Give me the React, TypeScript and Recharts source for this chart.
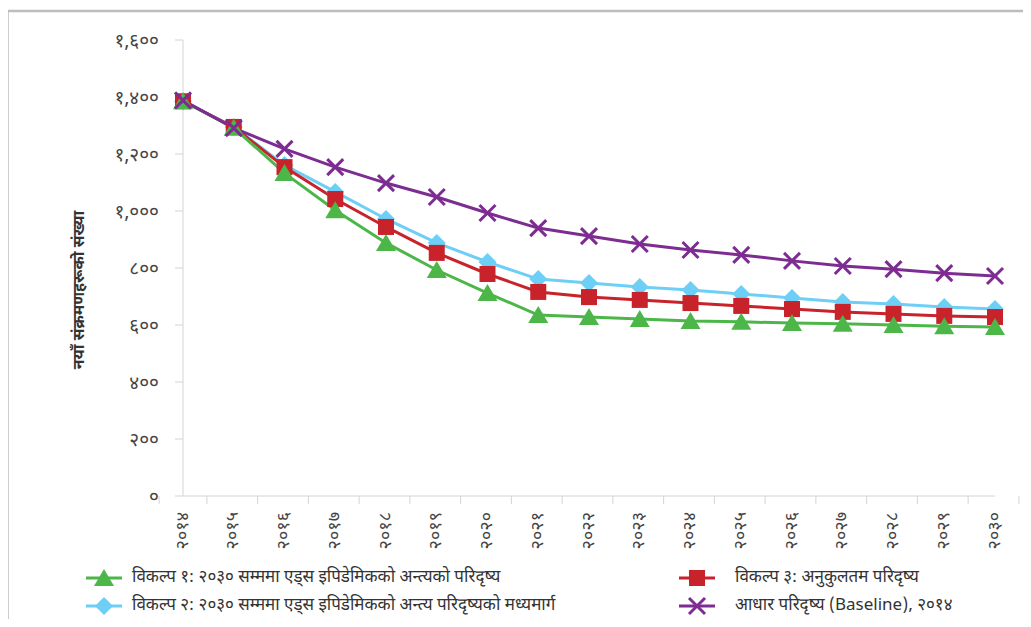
import { LineChart, Line, XAxis, YAxis } from "recharts";

const years = ["२०१४", "२०१५", "२०१६", "२०१७", "२०१८", "२०१९", "२०२०", "२०२१", "२०२२", "२०२३", "२०२४", "२०२५", "२०२६", "२०२७", "२०२८", "२०२९", "२०३०"];

const option1 = [1385, 1292, 1133, 1003, 888, 793, 712, 635, 628, 621, 614, 611, 607, 604, 600, 596, 593];
const option2 = [1385, 1295, 1161, 1067, 972, 888, 821, 761, 747, 733, 723, 709, 695, 681, 674, 663, 656];
const option3 = [1385, 1295, 1154, 1042, 944, 853, 779, 716, 698, 688, 677, 667, 656, 646, 639, 632, 628];
const baseline = [1388, 1291, 1218, 1154, 1098, 1049, 993, 940, 912, 884, 863, 846, 825, 807, 796, 782, 772];

const yTicks = [0, 200, 400, 600, 800, 1000, 1200, 1400, 1600];

const seriesNames = [
  "विकल्प १: २०३० सम्ममा एड्स इपिडेमिकको अन्त्यको परिदृष्य",
  "विकल्प २: २०३० सम्ममा एड्स इपिडेमिकको अन्त्य परिदृष्यको मध्यमार्ग",
  "विकल्प ३: अनुकुलतम परिदृष्य",
  "आधार परिदृष्य (Baseline), २०१४",
];

const GREEN = "#4cb748";
const BLUE = "#6dcff6";
const RED = "#c8222b";
const PURPLE = "#7d2c91";

const FONT = "'Noto Sans Devanagari', 'Noto Sans', sans-serif";

const data = years.map((y, i) => ({
  year: y,
  o1: option1[i],
  o2: option2[i],
  o3: option3[i],
  base: baseline[i],
}));

const DEV = "०१२३४५६७८९";
const toDev = (s: string) => s.replace(/[0-9]/g, (d) => DEV[+d]);

const BAND = (995 - 183) / years.length;

function Triangle({ cx, cy, color }: any) {
  if (cx == null || cy == null) return null;
  return <polygon points={`${cx},${cy - 9} ${cx - 10},${cy + 8} ${cx + 10},${cy + 8}`} fill={color} />;
}
function Square({ cx, cy, color }: any) {
  if (cx == null || cy == null) return null;
  return <rect x={cx - 8} y={cy - 8} width={16} height={16} fill={color} />;
}
function Diamond({ cx, cy, color }: any) {
  if (cx == null || cy == null) return null;
  return <polygon points={`${cx},${cy - 9} ${cx + 9},${cy} ${cx},${cy + 9} ${cx - 9},${cy}`} fill={color} />;
}
function Cross({ cx, cy, color }: any) {
  if (cx == null || cy == null) return null;
  return (
    <g stroke={color} strokeWidth={3}>
      <line x1={cx - 8} y1={cy - 8} x2={cx + 8} y2={cy + 8} />
      <line x1={cx - 8} y1={cy + 8} x2={cx + 8} y2={cy - 8} />
    </g>
  );
}

function XTick({ x, y, payload, index }: any) {
  return (
    <g transform={`translate(${x},${y})`}>
      {index === 0 && <line x1={-BAND / 2} y1={-8} x2={-BAND / 2} y2={0} stroke="#d4d4d4" />}
      <line x1={BAND / 2} y1={-8} x2={BAND / 2} y2={0} stroke="#d4d4d4" />
      <text
        transform="rotate(-90)"
        x={-8}
        y={0}
        textAnchor="end"
        dominantBaseline="central"
        fontSize={18}
        fill="#444"
        fontFamily={FONT}
      >
        {payload.value}
      </text>
    </g>
  );
}

function YLabel({ viewBox }: any) {
  const cy = viewBox.y + viewBox.height / 2 + 22;
  return (
    <text
      transform={`translate(80,${cy}) rotate(-90)`}
      textAnchor="middle"
      dominantBaseline="central"
      fontSize={16}
      fontWeight={700}
      fill="#333"
      fontFamily={FONT}
    >
      नयाँ संक्रमणहरूको संख्या
    </text>
  );
}

function LegendItem({ left, top, color, marker, label, gap }: any) {
  return (
    <div style={{ position: "absolute", left, top, display: "flex", alignItems: "center", height: 24 }}>
      <svg width={40} height={24}>
        <line x1={2} y1={12} x2={38} y2={12} stroke={color} strokeWidth={3} />
        {marker === "tri" && <Triangle cx={20} cy={12} color={color} />}
        {marker === "sq" && <Square cx={20} cy={12} color={color} />}
        {marker === "dia" && <Diamond cx={20} cy={12} color={color} />}
        {marker === "x" && <Cross cx={20} cy={12} color={color} />}
      </svg>
      <span style={{ marginLeft: gap, fontSize: 17, color: "#333", whiteSpace: "nowrap" }}>{label}</span>
    </div>
  );
}

export default function App() {
  return (
    <div
      style={{
        position: "relative",
        width: 1031,
        height: 627,
        margin: -8,
        overflow: "hidden",
        background: "#fff",
        fontFamily: FONT,
      }}
    >
      <div style={{ position: "absolute", left: 0, top: 0 }}>
        <LineChart width={1031} height={627} data={data} margin={{ top: 40, right: 36, left: 0, bottom: 71 }}>
          <XAxis
            dataKey="year"
            height={60}
            stroke="#d4d4d4"
            tickLine={false}
            tick={<XTick />}
            interval={0}
          />
          <YAxis
            width={183}
            domain={[0, 1600]}
            ticks={yTicks}
            stroke="#d4d4d4"
            tickSize={8}
            tickMargin={16}
            tick={{ fontSize: 19, fill: "#444", fontFamily: FONT }}
            tickFormatter={(v: number) => toDev(v.toLocaleString("en-US"))}
            label={{ content: (p: any) => <YLabel {...p} /> }}
          />
          <Line dataKey="o2" stroke={BLUE} strokeWidth={3} isAnimationActive={false} dot={(p: any) => <Diamond key={p.index} {...p} color={BLUE} />} />
          <Line dataKey="o3" stroke={RED} strokeWidth={3} isAnimationActive={false} dot={(p: any) => <Square key={p.index} {...p} color={RED} />} />
          <Line dataKey="o1" stroke={GREEN} strokeWidth={3} isAnimationActive={false} dot={(p: any) => <Triangle key={p.index} {...p} color={GREEN} />} />
          <Line dataKey="base" stroke={PURPLE} strokeWidth={3} isAnimationActive={false} dot={(p: any) => <Cross key={p.index} {...p} color={PURPLE} />} />
        </LineChart>
      </div>
      <svg width={1031} height={627} style={{ position: "absolute", left: 0, top: 0, zIndex: 2, pointerEvents: "none" }}>
        <line x1={7.5} y1={11} x2={1031} y2={11} stroke="#bdbdc1" strokeWidth={2.5} />
        <line x1={7.5} y1={10} x2={7.5} y2={627} stroke="#bdbdc1" strokeWidth={2.5} />
      </svg>
      <LegendItem left={84} top={566} color={GREEN} marker="tri" label={seriesNames[0]} gap={8} />
      <LegendItem left={84} top={594} color={BLUE} marker="dia" label={seriesNames[1]} gap={8} />
      <LegendItem left={677} top={566} color={RED} marker="sq" label={seriesNames[2]} gap={18} />
      <LegendItem left={677} top={594} color={PURPLE} marker="x" label={seriesNames[3]} gap={18} />
    </div>
  );
}
